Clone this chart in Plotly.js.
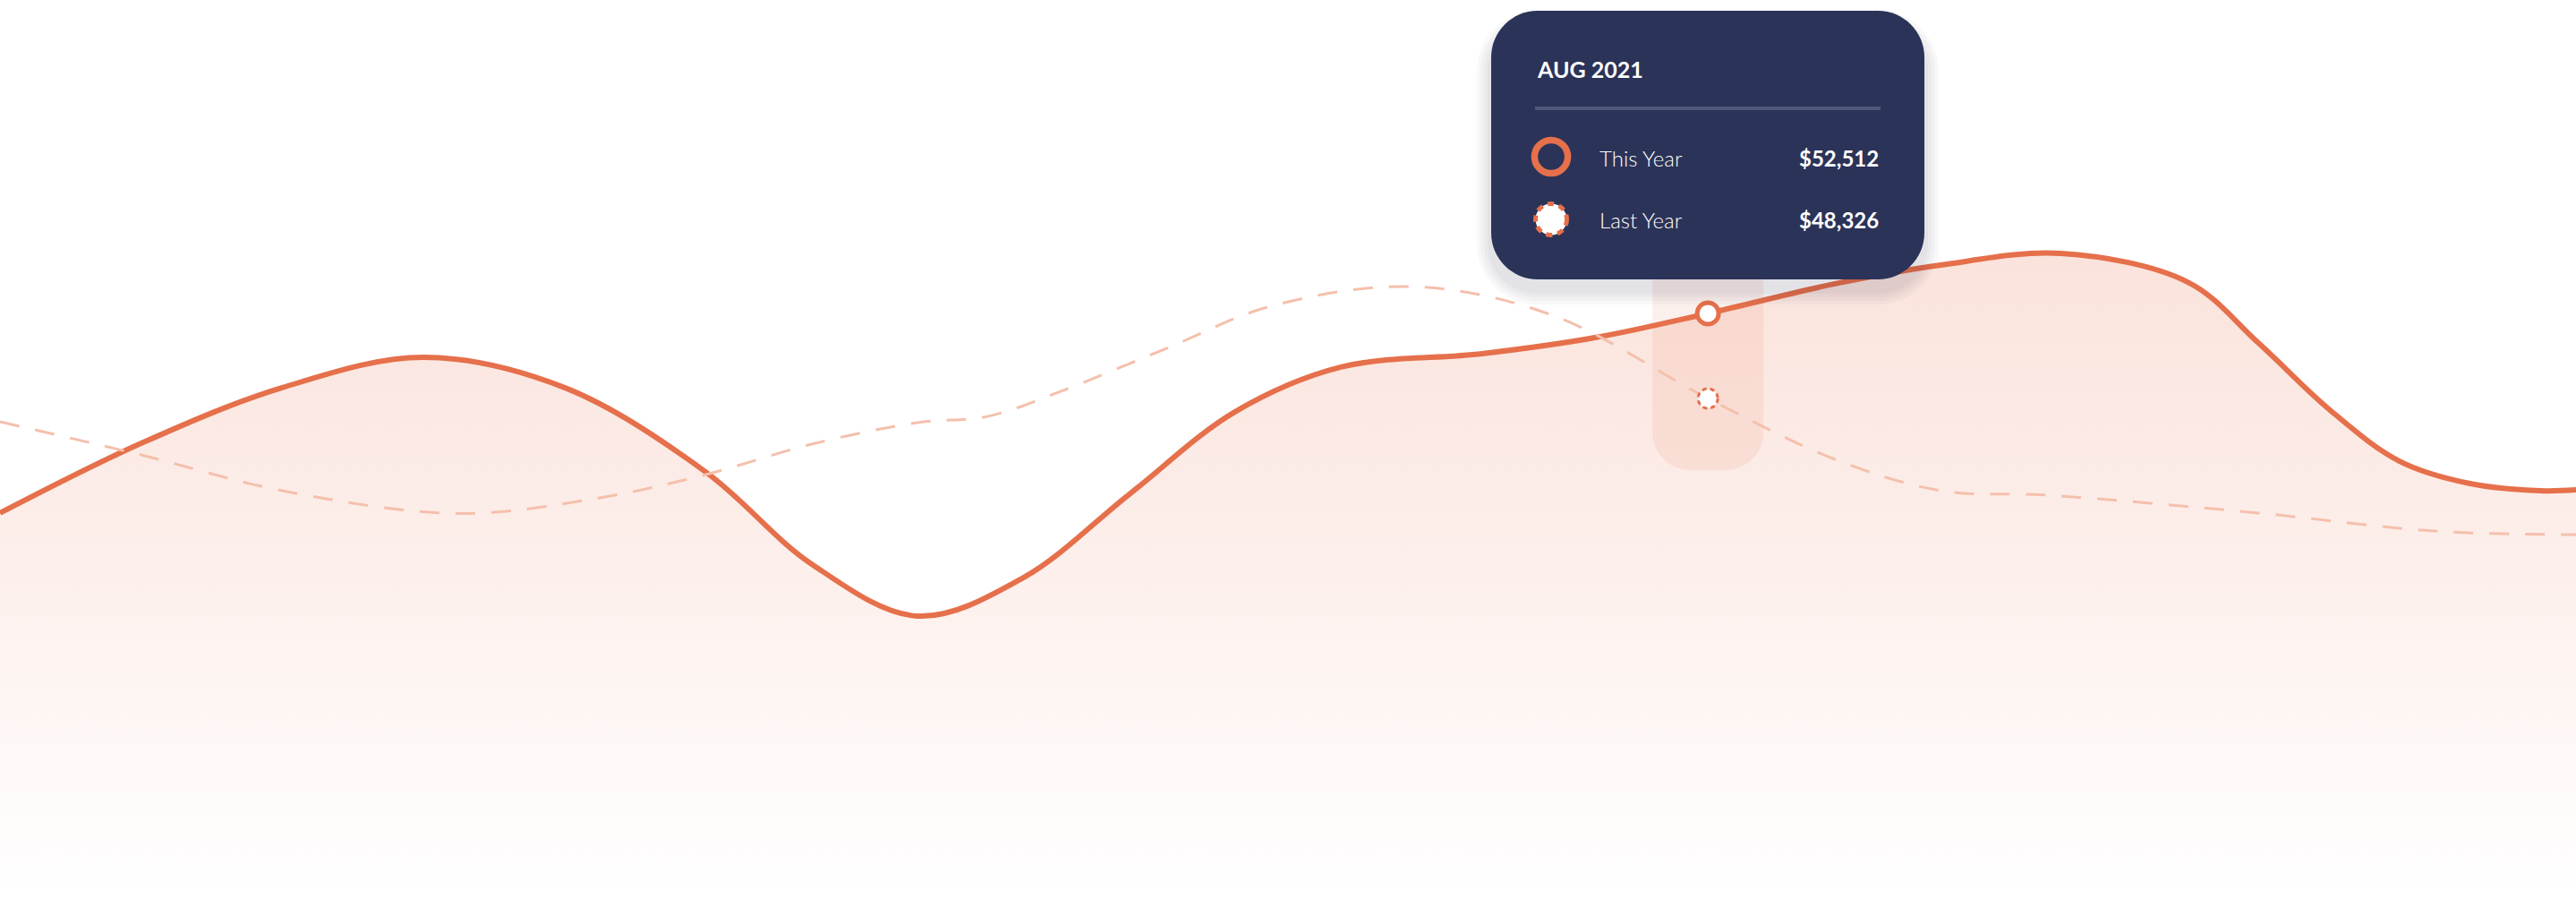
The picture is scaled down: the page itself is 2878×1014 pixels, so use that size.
<!DOCTYPE html>
<html>
<head>
<meta charset="utf-8">
<script src="https://cdn.plot.ly/plotly-3.0.1.min.js"></script>
<style>
	html, body { margin: 0; padding: 0; background: #fff; }
	#chart { width: 2878px; height: 1014px; }
</style>
</head>
<body>
<div id="chart"></div>
<script>
// day of year (2021) and revenue
var daysThis = [0, 20, 40, 60, 80, 100, 115, 130, 145, 160, 175, 190, 210, 226, 242, 260, 275, 292, 310, 320, 330, 340, 350, 360, 365];
var thisYear = [42690, 46120, 48860, 50350, 48860, 44710, 40180, 37620, 39510, 43610, 47670, 49870, 50530, 51320, 52512, 53970, 54890, 55460, 54050, 51060, 47800, 45240, 44140, 43790, 43830];
var daysLast = [0, 20, 40, 65, 85, 100, 115, 130, 140, 150, 165, 180, 200, 220, 242, 260, 275, 290, 320, 345, 365];
var lastYear = [47180, 45550, 43790, 42670, 43440, 44580, 46080, 47140, 47450, 48640, 50750, 52860, 53830, 52420, 48326, 45330, 43790, 43570, 42690, 41800, 41630];

var seriesNames = ['This Year', 'Last Year'];
var tipLabel = 'AUG 2021';
var tipDay = 242;
var tipValues = [52512, 48326];

const W = 2878, H = 1014;
const orange = '#E5704B';
const navy = '#2B3358';

function money(v) {
	return '$' + v.toLocaleString('en-US');
}

// rounded rect in pixels from the top-left corner (pixel shapes count y upwards)
function roundRect(x0, y0, x1, y1, r, square_top) {
	var k = 0.5523 * r;
	var rt = square_top ? 0 : r, kt = square_top ? 0 : k;
	var p = 'M' + (x0 + rt) + ',' + (-y0);
	p += ' L' + (x1 - rt) + ',' + (-y0);
	if (rt) p += ' C' + (x1 - rt + kt) + ',' + (-y0) + ' ' + x1 + ',' + (-(y0 + rt - kt)) + ' ' + x1 + ',' + (-(y0 + rt));
	p += ' L' + x1 + ',' + (-(y1 - r));
	p += ' C' + x1 + ',' + (-(y1 - r + k)) + ' ' + (x1 - r + k) + ',' + (-y1) + ' ' + (x1 - r) + ',' + (-y1);
	p += ' L' + (x0 + r) + ',' + (-y1);
	p += ' C' + (x0 + r - k) + ',' + (-y1) + ' ' + x0 + ',' + (-(y1 - r + k)) + ' ' + x0 + ',' + (-(y1 - r));
	p += ' L' + x0 + ',' + (-(y0 + rt));
	if (rt) p += ' C' + x0 + ',' + (-(y0 + rt - kt)) + ' ' + (x0 + rt - kt) + ',' + (-y0) + ' ' + (x0 + rt) + ',' + (-y0);
	return p + ' Z';
}

function pxShape(path, color, layer) {
	return {
		type: 'path', xref: 'paper', yref: 'paper',
		xsizemode: 'pixel', ysizemode: 'pixel', xanchor: 0, yanchor: 1,
		path: path, fillcolor: color, line: {width: 0}, layer: layer || 'above'
	};
}

function pxCircle(cx, cy, r, fill, lineColor, lineWidth, dash) {
	return {
		type: 'circle', xref: 'paper', yref: 'paper',
		xsizemode: 'pixel', ysizemode: 'pixel', xanchor: 0, yanchor: 1,
		x0: cx - r, x1: cx + r, y0: -cy - r, y1: -cy + r,
		fillcolor: fill, line: {color: lineColor, width: lineWidth, dash: dash || 'solid'}, layer: 'above'
	};
}

function label(text, x, y, anchor, font) {
	return {
		text: text, xref: 'paper', yref: 'paper', x: x / W, y: 1 - y / H,
		xanchor: anchor, yanchor: 'middle', showarrow: false, font: font
	};
}

var thisTrace = {
	type: 'scatter', mode: 'lines', x: daysThis, y: thisYear,
	line: {shape: 'spline', smoothing: 1, color: orange, width: 6},
	fill: 'tozeroy',
	fillgradient: {
		type: 'vertical', start: 24000, stop: 56000,
		colorscale: [[0, 'rgba(232,112,75,0)'], [0.55, 'rgba(232,112,75,0.12)'], [1, 'rgba(232,112,75,0.2)']]
	},
	hoverinfo: 'skip'
};
var lastTrace = {
	type: 'scatter', mode: 'lines', x: daysLast, y: lastYear,
	line: {shape: 'spline', smoothing: 1, color: '#F4C0AC', width: 3, dash: '22px,18px'},
	hoverinfo: 'skip'
};
var thisPoint = {
	type: 'scatter', mode: 'markers', x: [tipDay], y: [tipValues[0]],
	marker: {size: 24, color: '#fff', line: {color: orange, width: 5}},
	hoverinfo: 'skip'
};
var lastPoint = {
	type: 'scatter', mode: 'markers', x: [tipDay], y: [tipValues[1]],
	marker: {size: 21, color: '#fff', line: {width: 0}},
	hoverinfo: 'skip'
};

var shapes = [];
// highlight column under the hovered month
shapes.push({
	type: 'path', xref: 'x', yref: 'paper', xsizemode: 'pixel', ysizemode: 'pixel',
	xanchor: tipDay, yanchor: 1, path: roundRect(-62, 280, 62, 525, 42, true),
	fillcolor: 'rgba(232,140,110,0.13)', line: {width: 0}, layer: 'below'
});
// dashed ring of last year's point
shapes.push({
	type: 'circle', xref: 'x', yref: 'y', xsizemode: 'pixel', ysizemode: 'pixel',
	xanchor: tipDay, yanchor: tipValues[1], x0: -11, x1: 11, y0: -11, y1: 11,
	fillcolor: 'rgba(0,0,0,0)', line: {color: orange, width: 3, dash: '5px,4px'}, layer: 'above'
});
// tooltip shadow + box
for (var i = 4; i >= 1; i--) {
	var e = i * 4;
	shapes.push(pxShape(roundRect(1666 - e, 12 - e + 16, 2150 + e, 312 + e + 12, 52 + e), 'rgba(25,35,70,0.03)'));
}
shapes.push(pxShape(roundRect(1666, 12, 2150, 312, 52), navy));
shapes.push(pxShape(roundRect(1715, 119, 2101, 123, 0.01), '#50577A'));
shapes.push(pxCircle(1733, 175, 18.6, navy, orange, 7.5));
shapes.push(pxCircle(1733, 245, 17.5, '#fff', orange, 5, '7px,6px'));

var white = '#FFFFFF';
var annotations = [
	label(tipLabel, 1715, 77, 'left', {family: 'Lato', size: 25, color: white, weight: 700}),
	label(seriesNames[0], 1785, 176, 'left', {family: 'Lato', size: 24, color: white, weight: 300}),
	label(money(tipValues[0]), 2101, 176, 'right', {family: 'Lato', size: 24, color: white, weight: 700}),
	label(seriesNames[1], 1785, 245, 'left', {family: 'Lato', size: 24, color: white, weight: 300}),
	label(money(tipValues[1]), 2101, 245, 'right', {family: 'Lato', size: 24, color: white, weight: 700})
];

var layout = {
	width: W, height: H,
	margin: {l: 0, r: 0, t: 0, b: 0, pad: 0},
	paper_bgcolor: '#fff', plot_bgcolor: '#fff',
	showlegend: false, hovermode: false,
	xaxis: {range: [0, 365], visible: false, fixedrange: true},
	yaxis: {range: [23256, 67933], visible: false, fixedrange: true},
	shapes: shapes,
	annotations: annotations
};

Plotly.newPlot('chart', [thisTrace, lastTrace, thisPoint, lastPoint], layout, {staticPlot: true, displayModeBar: false});
</script>
</body>
</html>
